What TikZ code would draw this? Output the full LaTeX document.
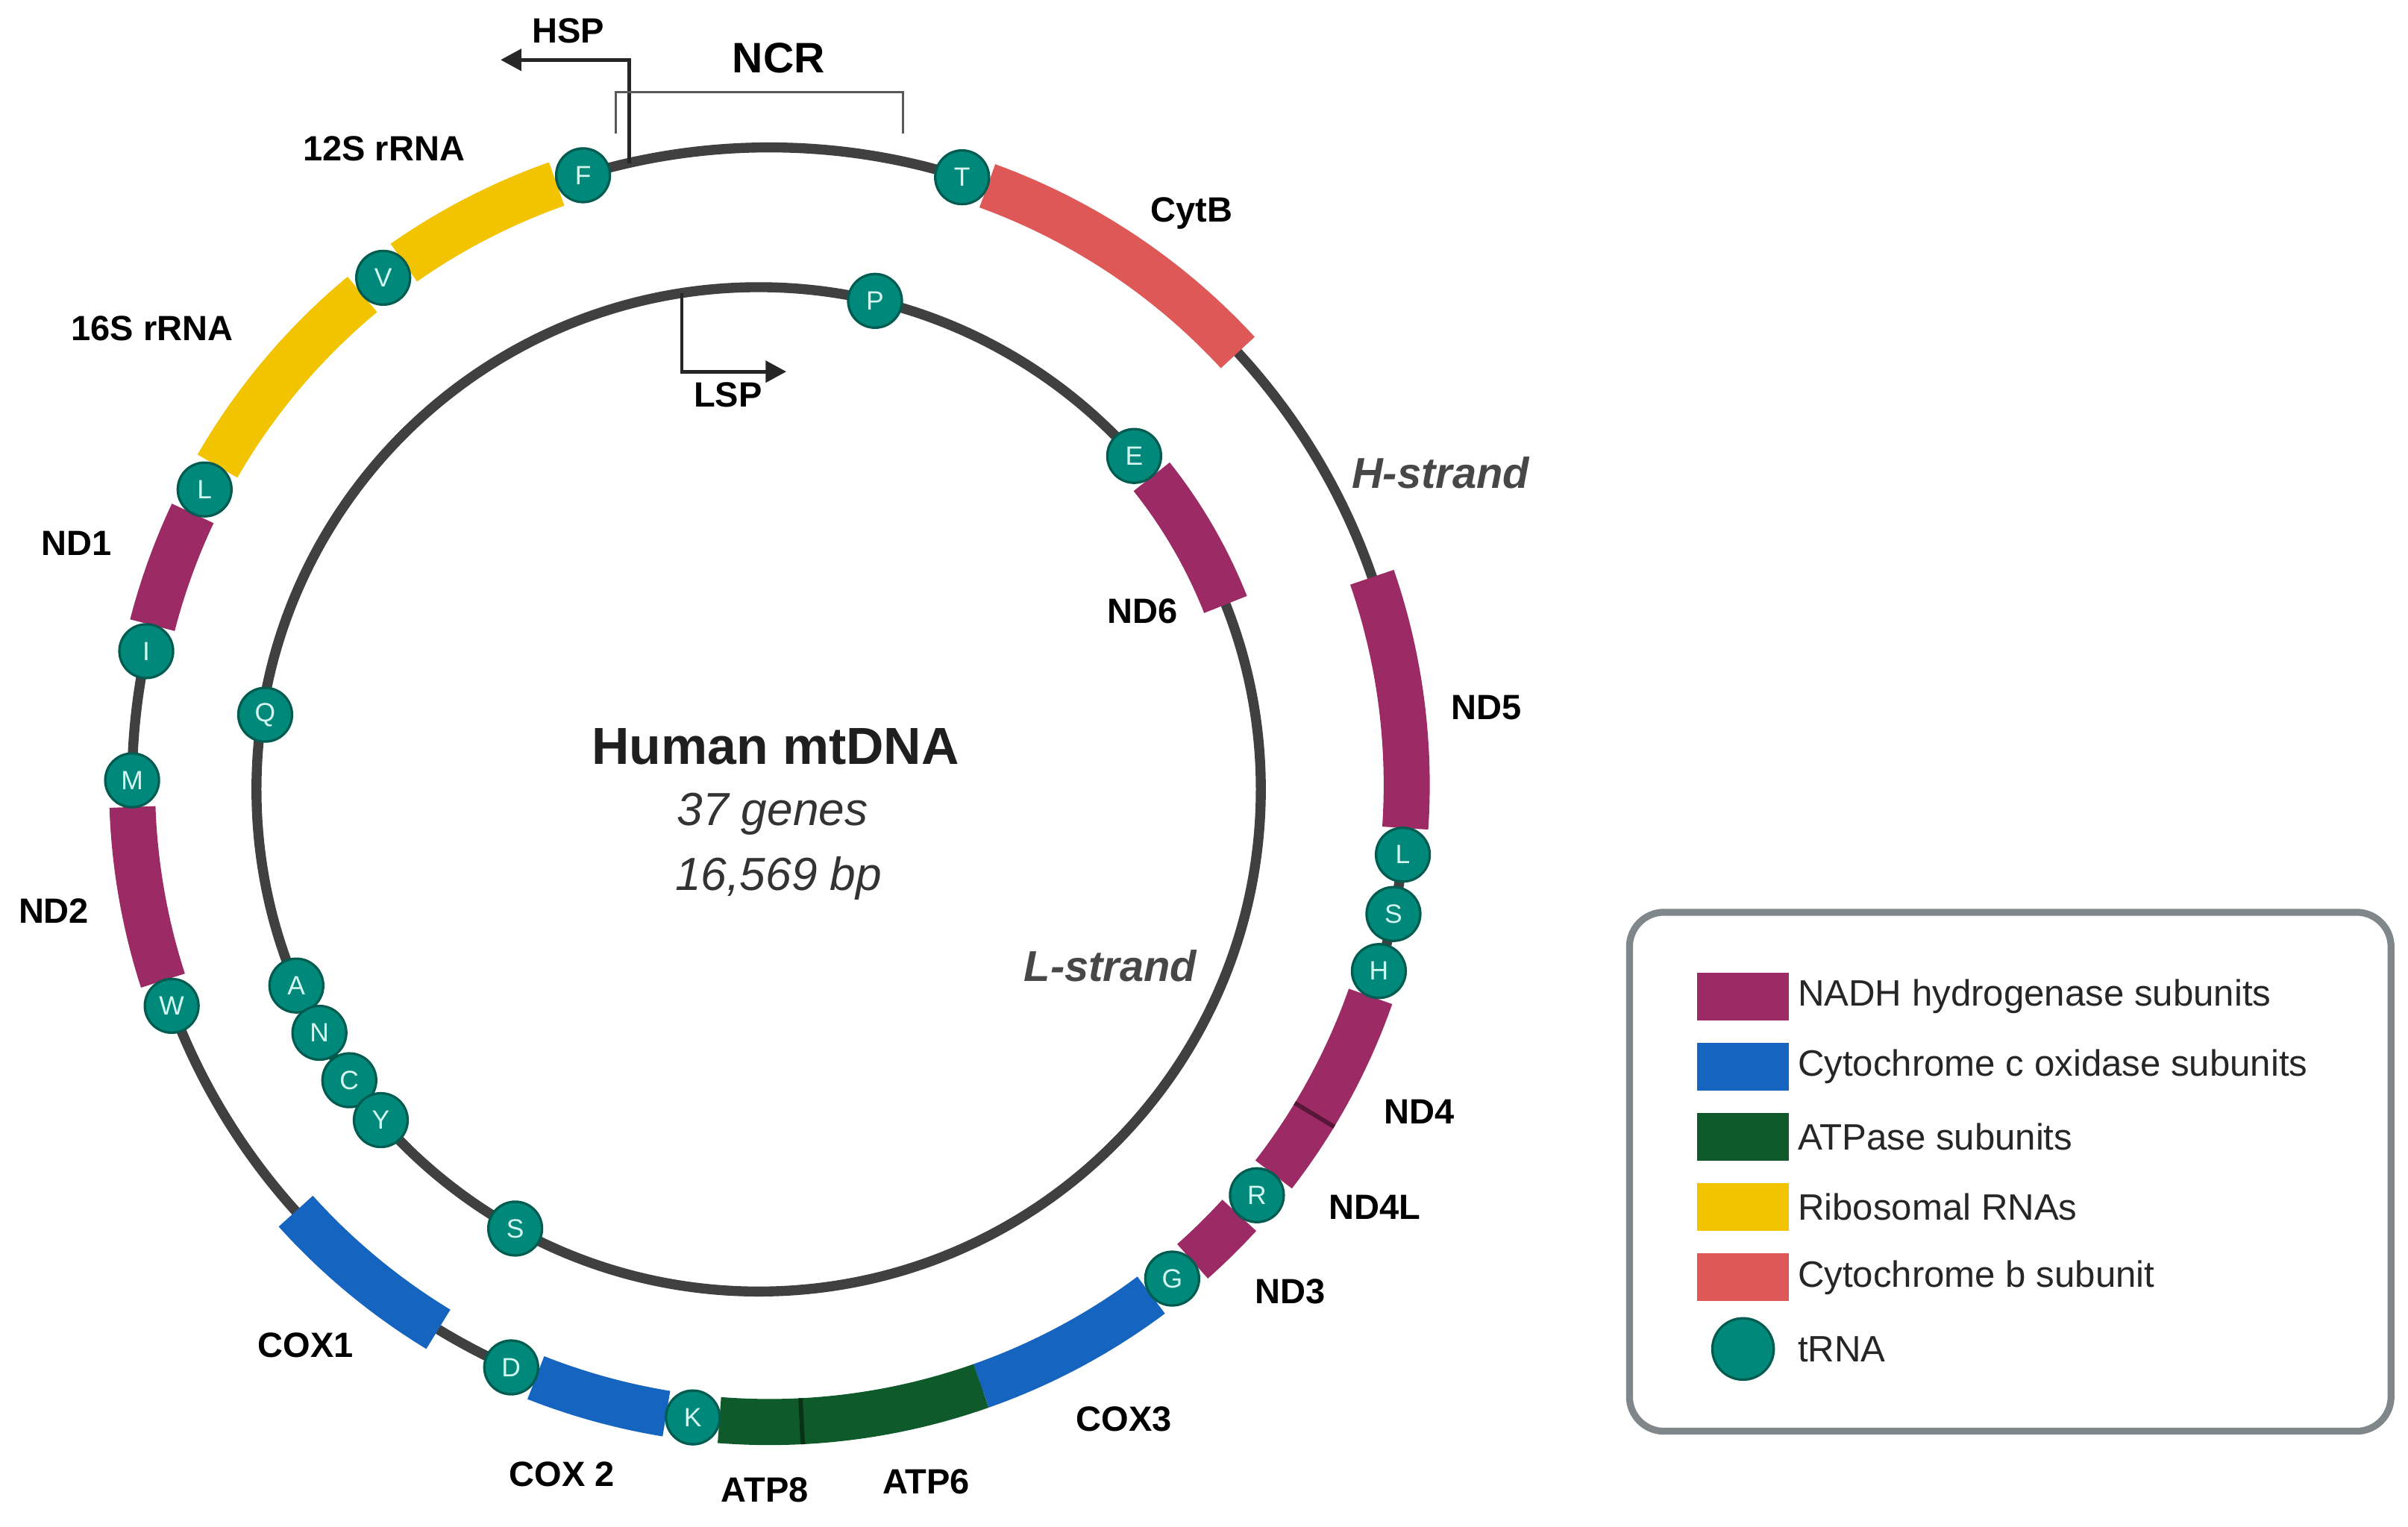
\documentclass[tikz,border=0pt]{standalone}
\usepackage{fontspec}
\setmainfont{Liberation Sans}
\usetikzlibrary{arrows.meta,positioning,calc}

\definecolor{ndhpurple}{HTML}{9C2A65}
\definecolor{coxblue}{HTML}{1565C0}
\definecolor{atpgreen}{HTML}{0F5A2A}
\definecolor{rrnayellow}{HTML}{F2C400}
\definecolor{cytbred}{HTML}{DE5858}
\definecolor{trnateal}{HTML}{00897B}
\definecolor{trnaedge}{HTML}{005B50}
\definecolor{trnaletter}{HTML}{D4F6F1}
\definecolor{ringgray}{HTML}{404040}
\definecolor{boxgray}{HTML}{7F878B}

\begin{document}
\begin{tikzpicture}[
  x=0.02cm, y=0.02cm,
  ring/.style={draw=ringgray, line width=0.13cm},
  band/.style={line width=0.6cm},
  ndh/.style={band, draw=ndhpurple},
  cox/.style={band, draw=coxblue},
  atp/.style={band, draw=atpgreen},
  rrna/.style={band, draw=rrnayellow},
  cytb/.style={band, draw=cytbred},
  divider/.style={line width=1.6pt},
  trna/.style={circle, fill=trnateal, draw=trnaedge, line width=0.9pt,
               minimum size=0.7cm, inner sep=0pt, text=trnaletter,
               font=\fontsize{9.8}{10}\selectfont},
  gene/.style={font=\bfseries\fontsize{13}{15}\selectfont},
  strand/.style={font=\bfseries\itshape\fontsize{16}{18}\selectfont, text=black!72},
  prom/.style={-{Triangle[length=0.27cm, width=0.28cm]}, line width=1.3pt, draw=black!85},
  bracket/.style={draw=black!65, line width=1pt},
  swatch/.style={rectangle, minimum width=1.2cm, minimum height=0.62cm, inner sep=0pt},
  legtext/.style={font=\fontsize{13.6}{15}\selectfont, text=black!85, inner sep=0pt}
]

\path[fill=white] (0,0) rectangle (1568,994);
\useasboundingbox (0,0) rectangle (1568,994);

% Centres of the two strands
\coordinate (outerc) at (501,483);
\coordinate (innerc) at (494,480);

% Rings
\draw[ring] (outerc) circle[radius=415];
\draw[ring] (innerc) circle[radius=327];

% Ribosomal RNAs
\draw[rrna] ([shift={(109.5:415)}]outerc) arc[start angle=109.5, end angle=125, radius=415];
\draw[rrna] ([shift={(129.7:415)}]outerc) arc[start angle=129.7, end angle=150, radius=415];

% NADH subunits
\draw[ndh] ([shift={(154.8:415)}]outerc) arc[start angle=154.8, end angle=165.5, radius=415];
\draw[ndh] ([shift={(182:415)}]outerc) arc[start angle=182, end angle=197.9, radius=415];
\draw[ndh] ([shift={(311.6:415)}]outerc) arc[start angle=311.6, end angle=317.5, radius=415];
\draw[ndh] ([shift={(322.3:415)}]outerc) arc[start angle=322.3, end angle=340.6, radius=415];
\draw[ndh] ([shift={(-3.9:415)}]outerc) arc[start angle=-3.9, end angle=19, radius=415];
\draw[ndh] ([shift={(21.6:327)}]innerc) arc[start angle=21.6, end angle=38.5, radius=327];

% Cytochrome c oxidase subunits
\draw[cox] ([shift={(222:415)}]outerc) arc[start angle=222, end angle=238.7, radius=415];
\draw[cox] ([shift={(248.5:415)}]outerc) arc[start angle=248.5, end angle=260.7, radius=415];
\draw[cox] ([shift={(289.4:415)}]outerc) arc[start angle=289.4, end angle=306.8, radius=415];

% ATPase subunits
\draw[atp] ([shift={(265.5:415)}]outerc) arc[start angle=265.5, end angle=289.4, radius=415];

% Cytochrome b
\draw[cytb] ([shift={(42.7:415)}]outerc) arc[start angle=42.7, end angle=70, radius=415];

% Gene borders
\draw[divider, draw=atpgreen!55!black] ([shift={(272.9:400)}]outerc) -- ([shift={(272.9:430)}]outerc);
\draw[divider, draw=ndhpurple!55!black] ([shift={(328.8:400)}]outerc) -- ([shift={(328.8:430)}]outerc);

% tRNAs, H-strand
\node[trna] (tF)  at ([shift={(107:415)}]outerc)   {F};
\node[trna] (tT)  at ([shift={(72.4:415)}]outerc)  {T};
\node[trna] (tV)  at ([shift={(127.3:415)}]outerc) {V};
\node[trna] (tL1) at ([shift={(152.4:415)}]outerc) {L};
\node[trna] (tI)  at ([shift={(167.9:415)}]outerc) {I};
\node[trna] (tM)  at ([shift={(179.6:415)}]outerc) {M};
\node[trna] (tW)  at ([shift={(200.3:415)}]outerc) {W};
\node[trna] (tD)  at ([shift={(246.1:415)}]outerc) {D};
\node[trna] (tK)  at ([shift={(263.1:415)}]outerc) {K};
\node[trna] (tG)  at ([shift={(309.2:415)}]outerc) {G};
\node[trna] (tR)  at ([shift={(319.9:415)}]outerc) {R};
\node[trna] (tH)  at ([shift={(343:415)}]outerc)   {H};
\node[trna] (tS1) at ([shift={(348.3:415)}]outerc) {S};
\node[trna] (tL2) at ([shift={(353.7:415)}]outerc) {L};

% tRNAs, L-strand
\node[trna] (tP)  at ([shift={(76.6:327)}]innerc)  {P};
\node[trna] (tE)  at ([shift={(41.6:327)}]innerc)  {E};
\node[trna] (tQ)  at ([shift={(171.4:325)}]innerc) {Q};
\node[trna] (tA)  at ([shift={(203:327)}]innerc)   {A};
\node[trna] (tN)  at ([shift={(209:327)}]innerc)   {N};
\node[trna] (tC)  at ([shift={(215.4:327)}]innerc) {C};
\node[trna] (tY)  at ([shift={(221.2:327)}]innerc) {Y};
\node[trna] (tS2) at ([shift={(241:327)}]innerc)   {S};

% Promoters and control region
\coordinate (hspfoot) at ([shift={(102.7:415)}]outerc);
\coordinate (hsptip)  at (326,955);
\coordinate (lspfoot) at ([shift={(98.8:327)}]innerc);
\coordinate (lsptip)  at (512,752);
\coordinate (ncrL) at (401,907);
\coordinate (ncrR) at (588,907);
\draw[prom] (hspfoot) |- (hsptip);
\draw[prom] (lspfoot) |- (lsptip);
\draw[bracket] (ncrL) -- ++(0,27) -| (ncrR);
\node[gene] (hsp) at (370,974) {HSP};
\node[gene, font=\bfseries\fontsize{15.8}{18}\selectfont] (ncr) at (507,956) {NCR};
\node[gene] (lsp) at (474,737) {LSP};

% Gene labels
\node[gene] (l12s)  at (250,897) {12S rRNA};
\node[gene] (l16s)  at (99,780)  {16S rRNA};
\node[gene] (lnd1)  at (50,640)  {ND1};
\node[gene] (lnd2)  at (35,401)  {ND2};
\node[gene] (lcox1) at (199,118) {COX1};
\node[gene] (lcox2) at (366,34)  {COX 2};
\node[gene] (latp8) at (498,24)  {ATP8};
\node[gene] (latp6) at (603,29)  {ATP6};
\node[gene] (lcox3) at (732,70)  {COX3};
\node[gene] (lnd3)  at (840,153) {ND3};
\node[gene] (lnd4l) at (895,208) {ND4L};
\node[gene] (lnd4)  at (924,270) {ND4};
\node[gene] (lnd5)  at (968,533) {ND5};
\node[gene] (lcytb) at (776,855) {CytB};
\node[gene] (lnd6)  at (744,596) {ND6};
\node[strand] (hstr) at (938,686) {H-strand};
\node[strand] (lstr) at (723,365) {L-strand};

% Title
\node[font=\bfseries\fontsize{19.3}{22}\selectfont, text=black!88] (title) at (505,508) {Human mtDNA};
\node[font=\itshape\fontsize{17.2}{20}\selectfont, text=black!80] (ngenes) at (503,464) {37 genes};
\node[font=\itshape\fontsize{17.2}{20}\selectfont, text=black!80] (nbp) at (507,422) {16,569 bp};

% Legend
\node[draw=boxgray, line width=0.09cm, rounded corners=0.45cm,
      minimum width=9.92cm, minimum height=6.76cm] (legend) at (1309,231) {};
\node[swatch, fill=ndhpurple]  (sw1) at (1135,345) {};
\node[swatch, fill=coxblue, below=0.28cm of sw1]    (sw2) {};
\node[swatch, fill=atpgreen, below=0.28cm of sw2]   (sw3) {};
\node[swatch, fill=rrnayellow, below=0.28cm of sw3] (sw4) {};
\node[swatch, fill=cytbred, below=0.28cm of sw4]    (sw5) {};
\node[circle, fill=trnateal, draw=trnaedge, line width=0.9pt, minimum size=0.8cm,
      inner sep=0pt, below=0.2cm of sw5] (sw6) {};
\node[legtext, right=0.1cm of sw1] {NADH hydrogenase subunits};
\node[legtext, right=0.1cm of sw2] {Cytochrome c oxidase subunits};
\node[legtext, right=0.1cm of sw3] {ATPase subunits};
\node[legtext, right=0.1cm of sw4] {Ribosomal RNAs};
\node[legtext, right=0.1cm of sw5] {Cytochrome b subunit};
\node[legtext, right=0.1cm of {sw5.east |- sw6}] {tRNA};

\end{tikzpicture}
\end{document}
